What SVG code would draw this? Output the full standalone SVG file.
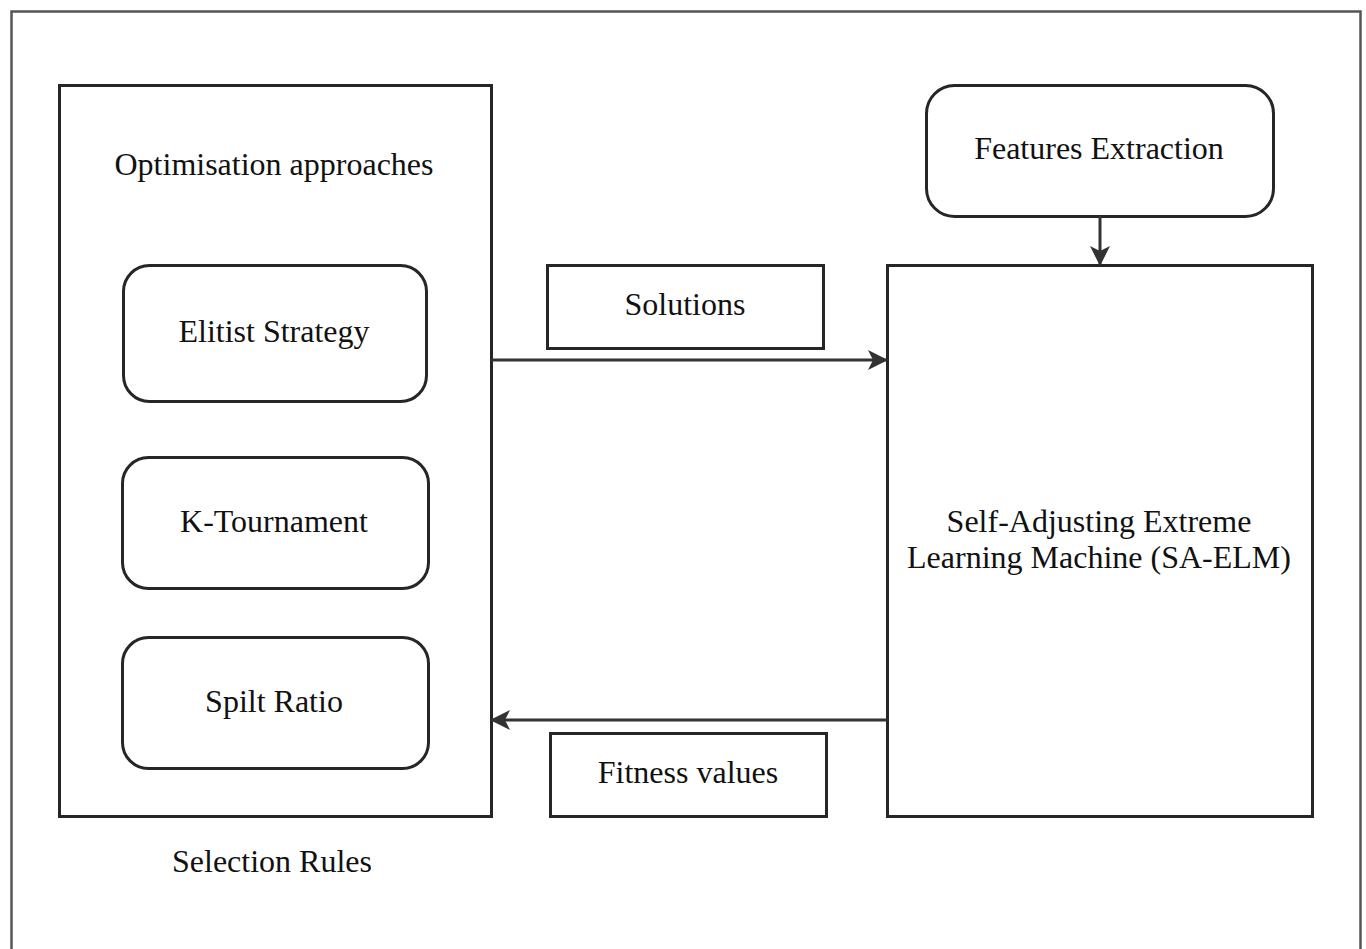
<svg xmlns="http://www.w3.org/2000/svg" width="1366" height="949" viewBox="0 0 1366 949">
<style>
.box{fill:#fff;stroke:#262626;stroke-width:3}
.t{font-family:"Liberation Serif","Times New Roman",serif;font-size:32px;fill:#111;text-anchor:middle}
.c{stroke:#333;stroke-width:3;fill:none}
</style>
<defs>
<marker id="ah2" markerWidth="20" markerHeight="20" refX="18" refY="10" orient="auto" markerUnits="userSpaceOnUse" viewBox="0 0 20 20">
<path d="M0,0 L20,10 L0,20 L5,10 Z" fill="#333"/>
</marker>
</defs>
<rect x="0" y="0" width="1366" height="949" fill="#fff"/>
<rect x="11.5" y="11.5" width="1349" height="960" fill="none" stroke="#555" stroke-width="2.5"/>
<g id="optimisation">
<rect class="box" x="59.5" y="85.5" width="432" height="731"/>
<text class="t" x="274" y="175">Optimisation approaches</text>
</g>
<g id="selection-rules"><text class="t" x="272" y="872">Selection Rules</text></g>
<g id="elitist">
<rect class="box" x="123.5" y="265.5" width="303" height="136" rx="26"/>
<text class="t" x="274" y="342">Elitist Strategy</text>
</g>
<g id="ktournament">
<rect class="box" x="122.5" y="457.5" width="306" height="131" rx="26"/>
<text class="t" x="274" y="532">K-Tournament</text>
</g>
<g id="spilt">
<rect class="box" x="122.5" y="637.5" width="306" height="131" rx="26"/>
<text class="t" x="274" y="712">Spilt Ratio</text>
</g>
<g id="features">
<rect class="box" x="926.5" y="85.5" width="347" height="131" rx="28"/>
<text class="t" x="1099" y="159">Features Extraction</text>
</g>
<g id="saelm">
<rect class="box" x="887.5" y="265.5" width="425" height="551"/>
<text class="t" x="1099" y="532">Self-Adjusting Extreme</text>
<text class="t" x="1099" y="568">Learning Machine (SA-ELM)</text>
</g>
<g id="solutions">
<rect class="box" x="547.5" y="265.5" width="276" height="83"/>
<text class="t" x="685" y="315">Solutions</text>
</g>
<g id="fitness">
<rect class="box" x="550.5" y="733.5" width="276" height="83"/>
<text class="t" x="688" y="783">Fitness values</text>
</g>
<g id="connectors">
<line class="c" x1="491" y1="360" x2="886" y2="360" marker-end="url(#ah2)"/>
<line class="c" x1="887" y1="720" x2="492" y2="720" marker-end="url(#ah2)"/>
<line class="c" x1="1100" y1="216" x2="1100" y2="264" marker-end="url(#ah2)"/>
</g>
</svg>
